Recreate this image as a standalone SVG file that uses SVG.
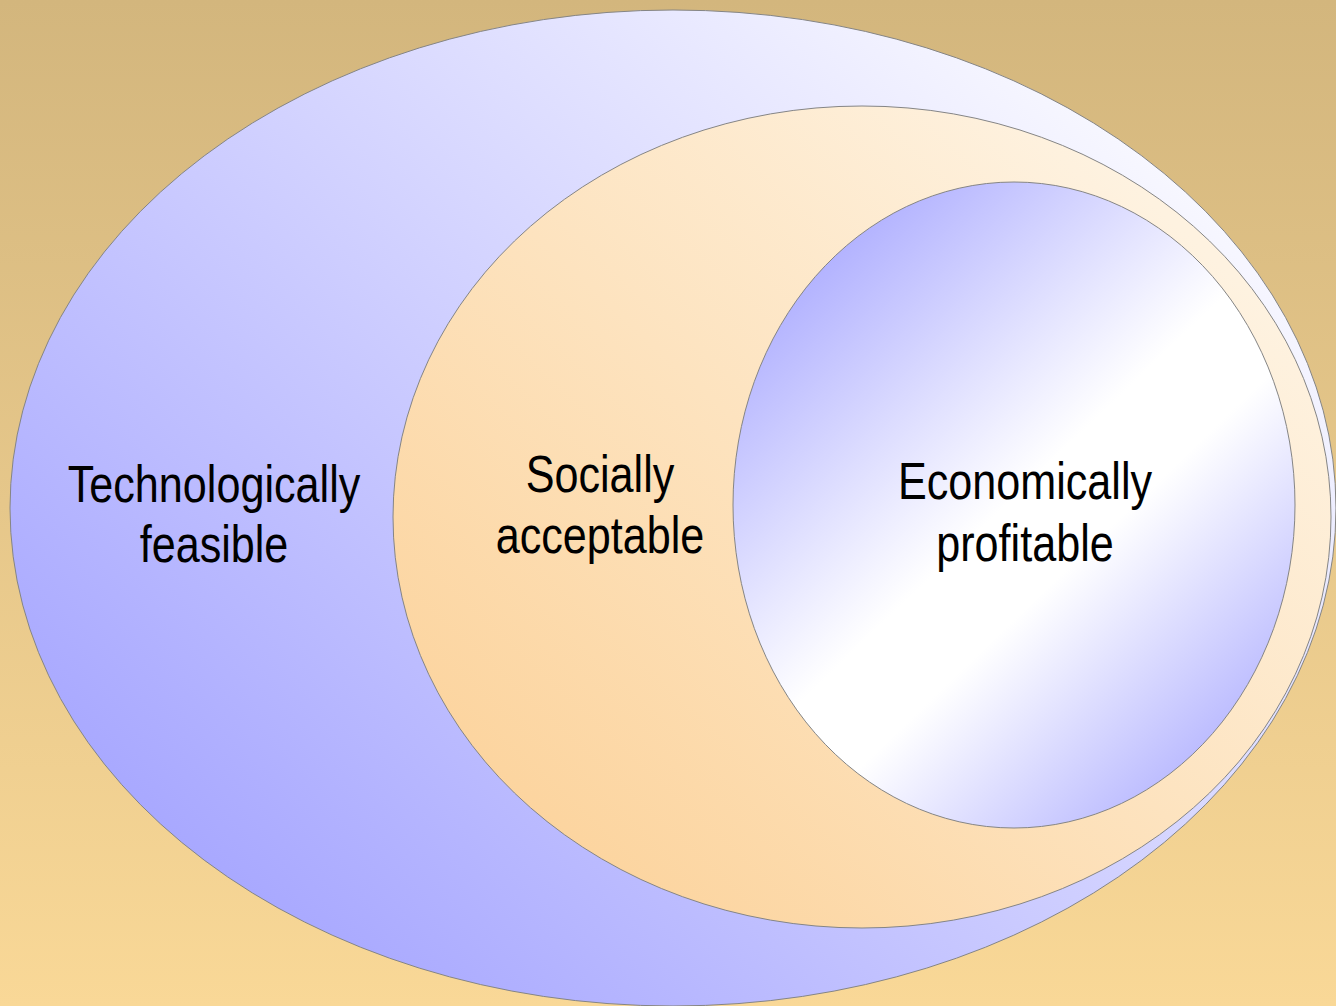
<svg xmlns="http://www.w3.org/2000/svg" width="1336" height="1006" viewBox="0 0 1336 1006">
  <defs>
    <linearGradient id="bg" x1="0" y1="0" x2="0" y2="1">
      <stop offset="0" stop-color="#D3B67D"/>
      <stop offset="1" stop-color="#F9D897"/>
    </linearGradient>
    <linearGradient id="gOuter" gradientUnits="userSpaceOnUse" x1="250" y1="950" x2="1050" y2="50">
      <stop offset="0" stop-color="#A6A6FF"/>
      <stop offset="1" stop-color="#F8F8FF"/>
    </linearGradient>
    <linearGradient id="gMid" gradientUnits="userSpaceOnUse" x1="550" y1="850" x2="1150" y2="200">
      <stop offset="0" stop-color="#FCD49E"/>
      <stop offset="1" stop-color="#FEF2E0"/>
    </linearGradient>
    <linearGradient id="gInner" gradientUnits="userSpaceOnUse" x1="790" y1="270" x2="1260" y2="760">
      <stop offset="0" stop-color="#AEAEFF"/>
      <stop offset="0.47" stop-color="#FFFFFF"/>
      <stop offset="0.6" stop-color="#FFFFFF"/>
      <stop offset="1" stop-color="#AEAEFF"/>
    </linearGradient>
  </defs>
  <style>
    .shape { stroke: #858585; stroke-width: 1; }
    .label { font-family: "Liberation Sans", Arial, sans-serif; font-size: 52px; fill: #000000; text-anchor: middle; }
  </style>
  <rect x="0" y="0" width="1336" height="1006" fill="url(#bg)"/>
  <g id="technologically-feasible">
    <ellipse class="shape" cx="673" cy="508" rx="663" ry="498" fill="url(#gOuter)"/>
    <text class="label" transform="translate(214 502) scale(0.83 1)">Technologically</text>
    <text class="label" transform="translate(214 562) scale(0.83 1)">feasible</text>
  </g>
  <g id="socially-acceptable">
    <ellipse class="shape" cx="862" cy="517" rx="469" ry="411" fill="url(#gMid)"/>
    <text class="label" transform="translate(600 492) scale(0.83 1)">Socially</text>
    <text class="label" transform="translate(600 553) scale(0.83 1)">acceptable</text>
  </g>
  <g id="economically-profitable">
    <ellipse class="shape" cx="1014" cy="505" rx="281" ry="323" fill="url(#gInner)"/>
    <text class="label" transform="translate(1025 499) scale(0.83 1)">Economically</text>
    <text class="label" transform="translate(1025 561) scale(0.83 1)">profitable</text>
  </g>
  <g id="connectors"/>
</svg>
